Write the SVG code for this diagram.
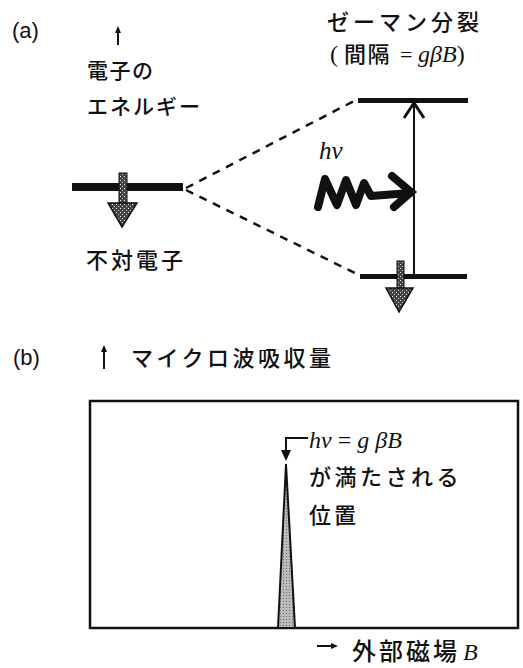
<svg xmlns="http://www.w3.org/2000/svg" width="523" height="668" viewBox="0 0 523 668">
<style>
.lbl{font-family:"Liberation Sans",Arial,sans-serif;font-size:22px;fill:#111}
.jp{font-family:"Noto Sans CJK JP","Noto Sans CJK SC",sans-serif;fill:#111}
.math{font-family:"Liberation Serif","Times New Roman",serif;font-style:italic;fill:#111}
.rm{font-family:"Liberation Serif","Times New Roman",serif;fill:#111}
.dash{stroke:#111;stroke-width:2.5;stroke-dasharray:8 7;fill:none}
.thin{stroke:#111;stroke-width:2;fill:none}
.level{fill:#111}
</style>
<defs>
<pattern id="stip" width="4" height="4" patternUnits="userSpaceOnUse">
<rect width="4" height="4" fill="#444"/>
<rect x="0" y="0" width="1" height="1" fill="#eee"/>
<rect x="2" y="2" width="1" height="1" fill="#ccc"/>
</pattern>
<pattern id="stip2" width="3" height="3" patternUnits="userSpaceOnUse">
<rect width="3" height="3" fill="#bbb"/>
<rect x="1" y="1" width="1" height="1" fill="#666"/>
</pattern>
</defs>

<g id="label-a"><text class="lbl" x="12" y="38">(a)</text></g>

<g id="energy-axis">
<path d="M118,45 V31" class="thin" stroke-width="1.8"/>
<path d="M115,33 L118,26 L121,33 Z" fill="#111"/>
<text class="jp" x="87" y="78" font-size="21" letter-spacing="1.5" font-weight="500">電子の</text>
<text class="jp" x="87" y="114" font-size="21" letter-spacing="2" font-weight="500">エネルギー</text>
</g>

<g id="zeeman-label">
<text class="jp" x="327" y="30" font-size="22" letter-spacing="4" font-weight="500">ゼーマン分裂</text>
<text x="330" y="62" font-size="22"><tspan class="rm" font-size="24">(</tspan><tspan class="jp" x="344" letter-spacing="1.5" font-weight="500">間隔</tspan><tspan class="rm" x="400">=</tspan><tspan class="math" x="418" font-size="24">gβB</tspan><tspan class="rm" font-size="24">)</tspan></text>
</g>

<g id="level-unpaired">
<rect class="level" x="72" y="183" width="111" height="8"/>
</g>
<g id="spin-left">
<rect x="119" y="173" width="8" height="31" fill="url(#stip)" stroke="#111" stroke-width="1"/>
<path d="M108,203 L137,203 L122,227 Z" fill="url(#stip)" stroke="#111" stroke-width="1.5"/>
</g>
<g id="label-unpaired"><text class="jp" x="86" y="268" font-size="22" letter-spacing="3" font-weight="500">不対電子</text></g>

<g id="level-upper"><rect class="level" x="358" y="98" width="110" height="5"/></g>
<g id="level-lower"><rect class="level" x="360" y="274" width="107" height="5"/></g>
<g id="spin-right">
<rect x="397" y="261" width="7" height="28" fill="url(#stip)" stroke="#111" stroke-width="1"/>
<path d="M386,288 L413,288 L399,312 Z" fill="url(#stip)" stroke="#111" stroke-width="1.5"/>
</g>

<g id="photon">
<text x="319" y="159" font-size="25"><tspan class="math">hν</tspan></text>
<path d="M318,207 L325,179 L337,205 L346,180 L356,205 L364,183 L371,196 L410,193" fill="none" stroke="#111" stroke-width="8" stroke-linejoin="round" stroke-linecap="round"/>
<path d="M392,176 L411,192 L394,207" fill="none" stroke="#111" stroke-width="8" stroke-linejoin="miter" stroke-linecap="round"/>
</g>

<g id="connectors">
<path class="dash" d="M186,188 L356,100"/>
<path class="dash" d="M186,190 L359,275"/>
<path d="M414,274 V104" class="thin"/>
<path d="M404,118 L414,103 L424,118" fill="none" stroke="#111" stroke-width="3"/>
<path d="M308,438 H286 V452" class="thin" stroke-width="1.8"/>
<path d="M281,450 L286,461 L291,450 Z" fill="#111"/>
</g>

<g id="label-b"><text class="lbl" x="13" y="365">(b)</text></g>
<g id="absorption-axis">
<path d="M104,369 V350" class="thin" stroke-width="1.8"/>
<path d="M101,352 L104,345 L107,352 Z" fill="#111"/>
<text class="jp" x="131" y="366" font-size="22" letter-spacing="3.5" font-weight="500">マイクロ波吸収量</text>
</g>

<g id="spectrum-box">
<rect x="90" y="401" width="428" height="227" fill="none" stroke="#111" stroke-width="2.5"/>
</g>
<g id="peak">
<path d="M278,628 L286,464 L295,628 Z" fill="url(#stip2)" stroke="#111" stroke-width="2"/>
</g>
<g id="resonance-note">
<text x="309" y="448" font-size="24"><tspan class="math">hν</tspan><tspan class="rm"> = </tspan><tspan class="math">g βB</tspan></text>
<text class="jp" x="309" y="485" font-size="22" letter-spacing="3.5" font-weight="500">が満たされる</text>
<text class="jp" x="309" y="523" font-size="22" letter-spacing="3" font-weight="500">位置</text>
</g>

<g id="field-axis">
<path d="M317,646 H333" class="thin" stroke-width="1.8"/>
<path d="M331,643 L338,646 L331,649 Z" fill="#111"/>
<text x="352" y="660" font-size="24"><tspan class="jp" letter-spacing="3" font-weight="500">外部磁場</tspan><tspan class="math" x="463">B</tspan></text>
</g>
</svg>
